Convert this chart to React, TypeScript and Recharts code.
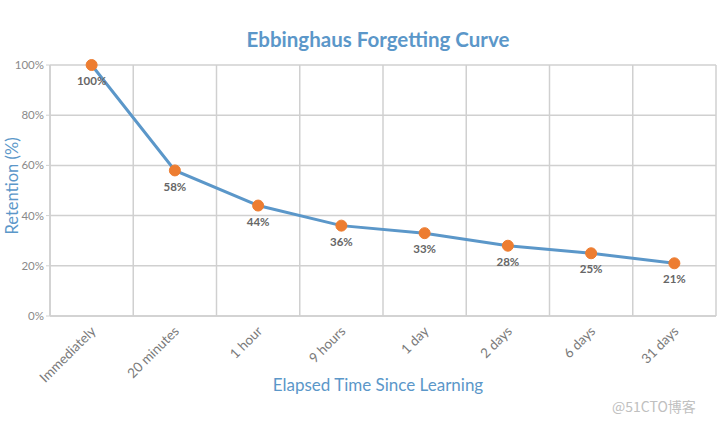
import { LineChart, Line, XAxis, YAxis, CartesianGrid, LabelList } from 'recharts';

const categories = [
  'Immediately',
  '20 minutes',
  '1 hour',
  '9 hours',
  '1 day',
  '2 days',
  '6 days',
  '31 days',
];
const retention = [100, 58, 44, 36, 33, 28, 25, 21];
const yTicks = [0, 20, 40, 60, 80, 100];
// band boundaries (in category units), used only for the vertical grid lines
const bandEdges = [0, 1, 2, 3, 4, 5, 6, 7, 8];

const data = categories.map((name, i) => ({ name, value: retention[i] }));

const BLUE = '#5b97c9';
const GRID = '#d0d0d0';
const FONT = 'Lato, "Open Sans", sans-serif';

const CategoryTick = ({ x, y, payload }: any) => (
  <g>
    <text
      x={x + 5}
      y={y + 8}
      transform={`rotate(-45 ${x + 5} ${y + 8})`}
      textAnchor="end"
      fontSize={13.5}
      fill="#7a7a7a"
      fontFamily={FONT}
    >
      {payload.value}
    </text>
  </g>
);

const gridX = ({ offset }: any) =>
  bandEdges.map((i) => offset.left + (i * offset.width) / categories.length);

export default function App() {
  return (
    <div style={{ position: 'absolute', left: 0, top: 0, width: 720, height: 424, background: '#fff', fontFamily: FONT }}>
      <div
        style={{
          position: 'absolute',
          left: 0,
          width: 756,
          top: 27,
          textAlign: 'center',
          color: BLUE,
          fontSize: 20.5,
          fontWeight: 700,
        }}
      >
        Ebbinghaus Forgetting Curve
      </div>
      <LineChart width={720} height={424} data={data} margin={{ top: 65, right: 4, bottom: 0, left: 0 }}>
        <CartesianGrid stroke={GRID} strokeWidth={1.5} verticalCoordinatesGenerator={gridX} />
        <XAxis
          dataKey="name"
          scale="band"
          height={108}
          tick={<CategoryTick />}
          tickLine={false}
          axisLine={{ stroke: GRID, strokeWidth: 1.5 }}
          interval={0}
        />
        <YAxis
          domain={[0, 100]}
          ticks={yTicks}
          width={50}
          tickFormatter={(v: number) => `${v}%`}
          tick={{ fontSize: 11.5, fill: '#8a8a8a', fontFamily: FONT }}
          tickSize={4}
          tickLine={{ stroke: GRID }}
          axisLine={{ stroke: GRID, strokeWidth: 1.5 }}
        />
        <Line
          type="linear"
          dataKey="value"
          stroke={BLUE}
          strokeWidth={3}
          dot={{ r: 5.5, fill: '#ed7d31', stroke: '#ed7d31', strokeWidth: 1 }}
          activeDot={false}
          isAnimationActive={false}
        >
          <LabelList
            dataKey="value"
            position="bottom"
            offset={12}
            formatter={(v: any) => `${v}%`}
            style={{ fontSize: 11.5, fontWeight: 700, fill: '#666', fontFamily: FONT }}
          />
        </Line>
      </LineChart>
      <div
        style={{
          position: 'absolute',
          left: 12,
          top: 186,
          transform: 'translate(-50%, -50%) rotate(-90deg)',
          color: BLUE,
          fontSize: 16.5,
          whiteSpace: 'nowrap',
        }}
      >
        Retention (%)
      </div>
      <div
        style={{
          position: 'absolute',
          left: 0,
          width: 756,
          top: 374,
          textAlign: 'center',
          color: BLUE,
          fontSize: 17,
        }}
      >
        Elapsed Time Since Learning
      </div>
      <div
        style={{
          position: 'absolute',
          left: 612,
          top: 396,
          color: '#c0c0c0',
          fontSize: 14,
          fontFamily: '"Noto Sans CJK SC", sans-serif',
        }}
      >
        @51CTO博客
      </div>
    </div>
  );
}
